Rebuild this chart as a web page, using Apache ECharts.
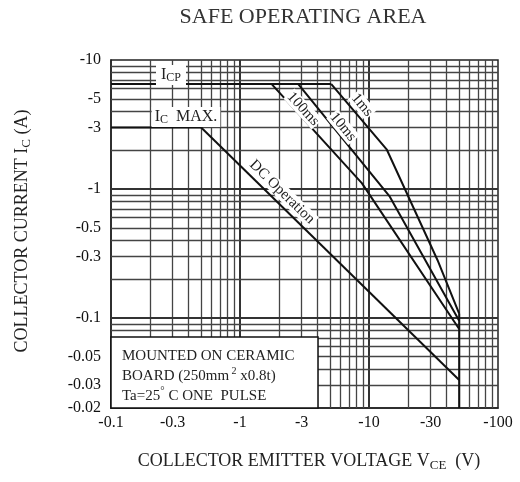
<!DOCTYPE html>
<html><head><meta charset="utf-8">
<script src="https://cdn.jsdelivr.net/npm/echarts@6/dist/echarts.min.js"></script>
<style>html,body{margin:0;padding:0;background:#fff}#c{width:520px;height:482px}</style>
</head><body><div id="c"></div><script>
// ---- tick labels ----
const xTickValues = [0.1, 0.3, 1, 3, 10, 30, 100];
const xTickLabels = ['-0.1', '-0.3', '-1', '-3', '-10', '-30', '-100'];
const yTickValues = [0.02, 0.03, 0.05, 0.1, 0.3, 0.5, 1, 3, 5, 10];
const yTickLabels = ['-0.02', '-0.03', '-0.05', '-0.1', '-0.3', '-0.5', '-1', '-3', '-5', '-10'];
// ---- log grid positions ----
const xGridMinor = [0.2, 0.3, 0.4, 0.5, 0.6, 0.7, 0.8, 0.9, 2, 3, 4, 5, 6, 7, 8, 9, 20, 30, 40, 50, 60, 70, 80, 90];
const xGridMajor = [1, 10];
const yGridMinor = [0.03, 0.04, 0.05, 0.06, 0.07, 0.08, 0.09, 0.2, 0.3, 0.4, 0.5, 0.6, 0.7, 0.8, 0.9, 2, 3, 4, 5, 6, 7, 8, 9];
const yGridMajor = [0.1, 1];
// ---- SOA boundary curves (|VCE| V, |IC| A) ----
const icpLimit = [[0.1, 6.5], [5.1, 6.5]];
const icMaxLimit = [[0.1, 3], [0.5, 3]];
const dcOperation = [[0.5, 3], [50, 0.033]];
const pulse100ms = [[1.76, 6.5], [8.8, 1.11], [50, 0.082]];
const pulse10ms = [[2.83, 6.5], [14.5, 0.87], [50, 0.095]];
const pulse1ms = [[5.1, 6.5], [13.7, 2.03], [34, 0.28], [50, 0.108]];
const vceoLimit = [[50, 0.02], [50, 0.108]];

const SERIF = '"Liberation Serif", "Times New Roman", serif';
function lookup(vals, labs) {
  return function (v) {
    for (let i = 0; i < vals.length; i++) {
      if (Math.abs(Math.log10(v) - Math.log10(vals[i])) < 0.005) return labs[i];
    }
    return '';
  };
}
const gridLine = { color: '#444', width: 1.3, type: 'solid' };
const gridLineMajor = { color: '#333', width: 2, type: 'solid' };
const gridMarks = []
  .concat(xGridMinor.map(v => ({ xAxis: v, lineStyle: gridLine })))
  .concat(xGridMajor.map(v => ({ xAxis: v, lineStyle: gridLineMajor })))
  .concat(yGridMinor.map(v => ({ yAxis: v, lineStyle: gridLine })))
  .concat(yGridMajor.map(v => ({ yAxis: v, lineStyle: gridLineMajor })));

function curve(name, data, w) {
  return { name, type: 'line', data, symbol: 'none', z: 5, silent: true,
    lineStyle: { color: '#111', width: w || 2 }, animation: false };
}

const chart = echarts.init(document.getElementById('c'), null, { renderer: 'canvas' });
chart.setOption({
  animation: false,
  backgroundColor: '#fff',
  grid: { left: 111, right: 22, top: 60, bottom: 74, show: true, borderColor: '#222', borderWidth: 1.5, backgroundColor: 'transparent' },
  xAxis: {
    type: 'log', logBase: 10, min: 0.1, max: 100,
    axisLine: { show: true, lineStyle: { color: '#222', width: 1.5 } },
    axisTick: { show: false }, splitLine: { show: false }, minorSplitLine: { show: false },
    axisLabel: { customValues: xTickValues, formatter: lookup(xTickValues, xTickLabels), fontFamily: SERIF, fontSize: 16, color: '#111', margin: 7, showMinLabel: true, showMaxLabel: true, hideOverlap: false }
  },
  yAxis: {
    type: 'log', logBase: 10, min: 0.02, max: 10,
    axisLine: { show: true, lineStyle: { color: '#222', width: 1.5 } },
    axisTick: { show: false }, splitLine: { show: false }, minorSplitLine: { show: false },
    axisLabel: { customValues: yTickValues, formatter: lookup(yTickValues, yTickLabels), fontFamily: SERIF, fontSize: 16, color: '#111', margin: 10, showMinLabel: true, showMaxLabel: true, hideOverlap: false }
  },
  series: [
    { name: 'grid', type: 'line', data: [], z: 1, silent: true,
      markLine: { silent: true, symbol: 'none', label: { show: false }, animation: false, data: gridMarks } },
    curve('ICP', icpLimit),
    curve('IC MAX', icMaxLimit),
    curve('DC Operation', dcOperation),
    curve('100ms', pulse100ms),
    curve('10ms', pulse10ms),
    curve('1ms', pulse1ms),
    curve('VCEO', vceoLimit, 2)
  ],
  graphic: [
    { type: 'text', x: 303, y: 17, z: 100, style: { text: 'SAFE OPERATING AREA', font: '22px ' + SERIF, fill: '#333', align: 'center', verticalAlign: 'middle' } },
    { type: 'text', x: 309, y: 461, z: 100, style: {
      text: '{m|COLLECTOR EMITTER VOLTAGE V}{s|CE}{m|  (V)}', align: 'center', verticalAlign: 'middle', fill: '#222',
      rich: { m: { fontFamily: SERIF, fontSize: 18, lineHeight: 22, verticalAlign: 'middle', fill: '#222' },
              s: { fontFamily: SERIF, fontSize: 13, lineHeight: 15, verticalAlign: 'bottom', fill: '#222' } } } },
    { type: 'text', x: 22, y: 231, rotation: Math.PI / 2, z: 100, style: {
      text: '{m|COLLECTOR CURRENT I}{s|C}{m| (A)}', align: 'center', verticalAlign: 'middle', fill: '#222',
      rich: { m: { fontFamily: SERIF, fontSize: 18, lineHeight: 22, verticalAlign: 'middle', fill: '#222' },
              s: { fontFamily: SERIF, fontSize: 13, lineHeight: 15, verticalAlign: 'bottom', fill: '#222' } } } },
    { type: 'rect', z: 100, shape: { x: 111, y: 337, width: 207, height: 71 }, style: { fill: '#fff', stroke: '#111', lineWidth: 1.5 } },
    { type: 'text', x: 122, y: 356, z: 101, style: { text: 'MOUNTED ON CERAMIC', font: '15px ' + SERIF, fill: '#222', align: 'left', verticalAlign: 'middle' } },
    { type: 'text', x: 122, y: 376, z: 101, style: {
      text: '{m|BOARD (250mm}{p| 2}{m| x0.8t)}', align: 'left', verticalAlign: 'middle',
      rich: { m: { fontFamily: SERIF, fontSize: 15, lineHeight: 20, verticalAlign: 'middle', fill: '#222' },
              p: { fontFamily: SERIF, fontSize: 10, lineHeight: 12, verticalAlign: 'top', fill: '#222' } } } },
    { type: 'text', x: 122, y: 396, z: 101, style: {
      text: '{m|Ta=25}{p|\u00b0}{m| C ONE  PULSE}', align: 'left', verticalAlign: 'middle',
      rich: { m: { fontFamily: SERIF, fontSize: 15, lineHeight: 20, verticalAlign: 'middle', fill: '#222' },
              p: { fontFamily: SERIF, fontSize: 11, lineHeight: 12, verticalAlign: 'top', fill: '#222' } } } },
    { type: 'text', x: 171, y: 75, z: 101, style: {
      text: '{m|I}{s|CP}', align: 'center', verticalAlign: 'middle', backgroundColor: '#fff', padding: [1, 5, 1, 5],
      rich: { m: { fontFamily: SERIF, fontSize: 16, lineHeight: 18, verticalAlign: 'middle', fill: '#222' },
              s: { fontFamily: SERIF, fontSize: 12, lineHeight: 12, verticalAlign: 'bottom', fill: '#222' } } } },
    { type: 'text', x: 186, y: 117, z: 101, style: {
      text: '{m|I}{s|C}{m|  MAX.}', align: 'center', verticalAlign: 'middle', backgroundColor: '#fff', padding: [1, 3, 1, 3],
      rich: { m: { fontFamily: SERIF, fontSize: 16, lineHeight: 18, verticalAlign: 'middle', fill: '#222' },
              s: { fontFamily: SERIF, fontSize: 12, lineHeight: 12, verticalAlign: 'bottom', fill: '#222' } } } },
    { type: 'text', x: 282, y: 192, rotation: -0.771, z: 101, style: { text: 'DC Operation', font: '15px ' + SERIF, fill: '#222', align: 'center', verticalAlign: 'middle', backgroundColor: '#fff', padding: [0, 2, 0, 2] } },
    { type: 'text', x: 303, y: 109, rotation: -0.83, z: 101, style: { text: '100ms', font: '15px ' + SERIF, fill: '#222', align: 'center', verticalAlign: 'middle', backgroundColor: '#fff', padding: [0, 1, 0, 1] } },
    { type: 'text', x: 343, y: 127, rotation: -0.88, z: 101, style: { text: '10ms', font: '15px ' + SERIF, fill: '#222', align: 'center', verticalAlign: 'middle', backgroundColor: '#fff', padding: [0, 1, 0, 1] } },
    { type: 'text', x: 362, y: 105, rotation: -0.87, z: 101, style: { text: '1ms', font: '15px ' + SERIF, fill: '#222', align: 'center', verticalAlign: 'middle', backgroundColor: '#fff', padding: [0, 1, 0, 1] } }
  ]
});
</script></body></html>
